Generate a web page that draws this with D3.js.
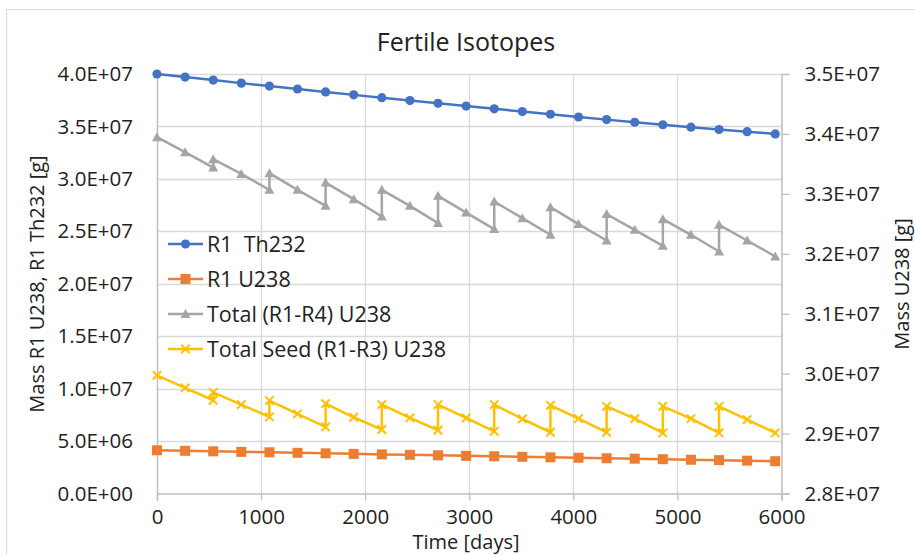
<!DOCTYPE html>
<html><head><meta charset="utf-8">
<script src="https://cdn.jsdelivr.net/npm/d3@7"></script>
<style>
html,body{margin:0;padding:0;background:#fff;}
svg{display:block;font-family:"Open Sans","Noto Sans",sans-serif;}
</style></head>
<body>
<svg id="chart" width="915" height="555"></svg>
<script>
// ---- data ----
const timeDays = [0,270,540,810,1080,1350,1620,1890,2160,2430,2700,2970,3240,3510,3780,4050,4320,4590,4860,5130,5400,5670,5940];
const r1Th232 = [4.000e7,3.971e7,3.942e7,3.913e7,3.885e7,3.857e7,3.829e7,3.801e7,3.774e7,3.747e7,3.720e7,3.694e7,3.668e7,3.642e7,3.616e7,3.590e7,3.565e7,3.540e7,3.516e7,3.493e7,3.471e7,3.450e7,3.429e7];
const r1U238 = [4.12e6,4.07e6,4.02e6,3.97e6,3.93e6,3.88e6,3.83e6,3.78e6,3.73e6,3.69e6,3.64e6,3.59e6,3.55e6,3.50e6,3.45e6,3.41e6,3.36e6,3.32e6,3.27e6,3.22e6,3.18e6,3.13e6,3.08e6];
const refuelTime = [0,270,540,540,810,1080,1080,1350,1620,1620,1890,2160,2160,2430,2700,2700,2970,3240,3240,3510,3780,3780,4050,4320,4320,4590,4860,4860,5130,5400,5400,5670,5940];
const totalU238 = [3.3945e7,3.3695e7,3.3438e7,3.3578e7,3.3333e7,3.3067e7,3.3345e7,3.3067e7,3.2800e7,3.3188e7,3.2912e7,3.2622e7,3.3067e7,3.2800e7,3.2512e7,3.2967e7,3.2688e7,3.2412e7,3.2872e7,3.2595e7,3.2317e7,3.2778e7,3.2495e7,3.2222e7,3.2662e7,3.2400e7,3.2133e7,3.2578e7,3.2317e7,3.2038e7,3.2483e7,3.2222e7,3.1955e7];
const seedU238 = [1.127e7,1.007e7,0.889e7,0.965e7,0.848e7,0.730e7,0.886e7,0.759e7,0.635e7,0.857e7,0.727e7,0.610e7,0.848e7,0.721e7,0.603e7,0.848e7,0.721e7,0.593e7,0.848e7,0.711e7,0.584e7,0.841e7,0.714e7,0.584e7,0.831e7,0.714e7,0.578e7,0.831e7,0.714e7,0.578e7,0.831e7,0.705e7,0.578e7];
const xTicks = [0,1000,2000,3000,4000,5000,6000];
const leftTicks = [0,5e6,1e7,1.5e7,2e7,2.5e7,3e7,3.5e7,4e7];
const rightTicks = [2.8e7,2.9e7,3.0e7,3.1e7,3.2e7,3.3e7,3.4e7,3.5e7];
const seriesNames = ["R1  Th232","R1 U238","Total (R1-R4) U238","Total Seed (R1-R3) U238"];
const seriesColors = ["#4472C4","#ED7D31","#A5A5A5","#FFC000"];
const titleText = "Fertile Isotopes";
const xTitle = "Time [days]";
const yLeftTitle = "Mass R1 U238, R1 Th232 [g]";
const yRightTitle = "Mass U238 [g]";

// ---- layout ----
const svg = d3.select("#chart");
const L = 157, R = 781.5, T = 74, B = 493.5;
const x = d3.scaleLinear().domain([0,6000]).range([L,R]);
const yL = d3.scaleLinear().domain([0,4e7]).range([B,T]);
const yR = d3.scaleLinear().domain([2.8e7,3.5e7]).range([B,T]);
const fmtE = d => { const s = d3.format(".1e")(d); const [m,e] = s.split("e"); const n = +e; return m + "E" + (n<0?"-":"+") + String(Math.abs(n)).padStart(2,"0"); };

// chart frame
svg.append("rect").attr("x",6.5).attr("y",9.5).attr("width",1000).attr("height",1000)
  .attr("fill","#fff").attr("stroke","#d9d9d9").attr("stroke-width",1);

// gridlines
const grid = svg.append("g");
grid.selectAll("line.h").data(leftTicks.slice(1)).join("line")
  .attr("x1",L).attr("x2",R).attr("y1",d=>Math.round(yL(d))+0.5).attr("y2",d=>Math.round(yL(d))+0.5)
  .attr("stroke","#d9d9d9").attr("stroke-width",1.4);
grid.selectAll("line.v").data(xTicks.slice(1,-1)).join("line")
  .attr("y1",T).attr("y2",B).attr("x1",d=>Math.round(x(d))+0.5).attr("x2",d=>Math.round(x(d))+0.5)
  .attr("stroke","#d9d9d9").attr("stroke-width",1.4);

// axes
const axisColor = "#bfbfbf";
const xAx = svg.append("g").attr("transform",`translate(0,${B})`)
  .call(d3.axisBottom(x).tickValues(xTicks).tickSize(7).tickPadding(9).tickFormat(d3.format("d")));
const yAxL = svg.append("g").attr("transform",`translate(${L},0)`)
  .call(d3.axisLeft(yL).tickValues(leftTicks).tickSize(0).tickPadding(24).tickFormat(fmtE));
const yAxR = svg.append("g").attr("transform",`translate(${R},0)`)
  .call(d3.axisRight(yR).tickValues(rightTicks).tickSize(8).tickPadding(15).tickFormat(fmtE));
[xAx,yAxL,yAxR].forEach(g=>{
  g.select(".domain").attr("stroke",axisColor).attr("stroke-width",1.5);
  g.selectAll(".tick line").attr("stroke",axisColor).attr("stroke-width",1.3);
  g.selectAll(".tick text").attr("fill","#222").attr("font-size",20.5).attr("font-family","Open Sans");
});

// titles
svg.append("text").attr("x",466).attr("y",51).attr("text-anchor","middle")
  .attr("font-size",25).attr("fill","#222").text(titleText);
svg.append("text").attr("x",466).attr("y",549).attr("text-anchor","middle")
  .attr("font-size",20).attr("fill","#222").text(xTitle);
svg.append("text").attr("transform","translate(44,284) rotate(-90)").attr("text-anchor","middle")
  .attr("font-size",20).attr("fill","#222").text(yLeftTitle);
svg.append("text").attr("transform","translate(909,284) rotate(-90)").attr("text-anchor","middle")
  .attr("font-size",20).attr("fill","#222").text(yRightTitle);

// markers
function marker(g, kind, color){
  if(kind===0) g.append("circle").attr("r",4.6).attr("fill",color);
  else if(kind===1) g.append("rect").attr("x",-5).attr("y",-5).attr("width",10).attr("height",10).attr("fill",color);
  else if(kind===2) g.append("path").attr("d","M0,-5L5,4L-5,4Z").attr("fill",color);
  else g.append("path").attr("d","M-4.2,-4.2L4.2,4.2M-4.2,4.2L4.2,-4.2").attr("stroke",color).attr("stroke-width",2).attr("fill","none");
}

const series = [
  {t: timeDays, v: r1Th232, y: yL},
  {t: timeDays, v: r1U238, y: yL},
  {t: refuelTime, v: totalU238, y: yR},
  {t: refuelTime, v: seedU238, y: yL}
];
const plotG = svg.append("g");
series.forEach((s,i)=>{
  const pts = s.t.map((t,j)=>[x(t), s.y(s.v[j])]);
  plotG.append("path").attr("d", d3.line()(pts)).attr("fill","none")
    .attr("stroke",seriesColors[i]).attr("stroke-width",2.5).attr("stroke-linejoin","round");
  pts.forEach(p=>{ const g = plotG.append("g").attr("transform",`translate(${p[0]},${p[1]})`); marker(g,i,seriesColors[i]); });
});

// legend
const legRows = [244,279,314,349];
seriesNames.forEach((n,i)=>{
  const g = svg.append("g").attr("transform",`translate(168,${legRows[i]})`);
  g.append("line").attr("x1",0).attr("x2",35).attr("stroke",seriesColors[i]).attr("stroke-width",2.5);
  const m = g.append("g").attr("transform","translate(17.5,0)"); marker(m,i,seriesColors[i]);
  g.append("text").attr("x",39).attr("y",0).attr("dy","0.35em").attr("font-size",21.5)
    .attr("fill","#222").style("white-space","pre").text(n);
});
</script>
</body></html>
